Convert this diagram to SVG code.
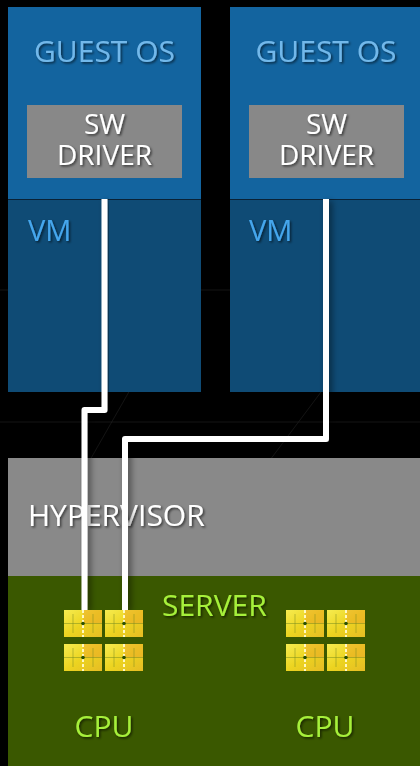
<svg xmlns="http://www.w3.org/2000/svg" width="420" height="766" viewBox="0 0 420 766">
<defs>
<style>
.t{font-family:"Open Sans","Liberation Sans",sans-serif;font-size:30px;filter:url(#ts)}
.guest{fill:#72b8ea}
.white{fill:#ffffff}
.drv{font-size:28px}
.vm{fill:#45a6ec;font-size:29px}
.green{fill:#a6f03a}
.wire{fill:none;stroke:#ffffff;stroke-width:6;stroke-linejoin:round;filter:url(#ls)}
.bg{stroke:#222222;stroke-width:1;fill:none;opacity:0.6}
</style>
<filter id="ts" x="-10%" y="-20%" width="130%" height="160%">
<feDropShadow dx="1.5" dy="1.5" stdDeviation="1" flood-color="#000" flood-opacity="0.6"/>
</filter>
<filter id="ls" x="-20%" y="-5%" width="140%" height="110%">
<feDropShadow dx="3" dy="2" stdDeviation="3" flood-color="#000" flood-opacity="0.45"/>
</filter>
<linearGradient id="chipg" x1="0" y1="0" x2="1" y2="1">
<stop offset="0" stop-color="#f6ec50"/>
<stop offset="0.5" stop-color="#ecd420"/>
<stop offset="1" stop-color="#e6bc24"/>
</linearGradient>
<g id="chip">
<rect x="0" y="0" width="38" height="27" fill="url(#chipg)"/>
<rect x="19" y="0" width="19" height="14" fill="#eb9a2a" opacity="0.4"/>
<line x1="0" y1="13.5" x2="38" y2="13.5" stroke="#8a9a20" stroke-width="1.2" opacity="0.6"/>
<line x1="9" y1="4" x2="9" y2="23" stroke="#7a8a20" stroke-width="1" opacity="0.5"/>
<line x1="29" y1="4" x2="29" y2="23" stroke="#7a8a20" stroke-width="1" opacity="0.5"/>
<line x1="19" y1="0" x2="19" y2="27" stroke="#fff8c0" stroke-width="2" stroke-dasharray="3 2"/>
<circle cx="19" cy="13.5" r="1.8" fill="#2a5000"/>
</g>
</defs>
<rect width="420" height="766" fill="#000000"/>
<g id="background">
<line class="bg" x1="0" y1="290" x2="420" y2="290"/>
<line class="bg" x1="0" y1="422" x2="420" y2="422"/>
<line class="bg" x1="270" y1="460" x2="330" y2="380"/>
<line class="bg" x1="90" y1="460" x2="130" y2="390"/>
</g>
<g id="vm1">
<rect x="8" y="7" width="193" height="192" fill="#13649f"/>
<rect x="8" y="200" width="193" height="192" fill="#0f4b75"/>
<line x1="8" y1="199.5" x2="201" y2="199.5" stroke="#0a2236" stroke-width="1"/>
<text class="t guest" x="104.5" y="62" text-anchor="middle">GUEST OS</text>
<text class="t vm" x="28" y="241">VM</text>
</g>
<g id="driver1">
<rect x="27" y="105" width="155" height="73" fill="#888888"/>
<text class="t white drv" x="104.5" y="134" text-anchor="middle">SW</text>
<text class="t white drv" x="104.5" y="165" text-anchor="middle">DRIVER</text>
</g>
<g id="vm2">
<rect x="230" y="7" width="190" height="192" fill="#13649f"/>
<rect x="230" y="200" width="190" height="192" fill="#0f4b75"/>
<line x1="230" y1="199.5" x2="420" y2="199.5" stroke="#0a2236" stroke-width="1"/>
<text class="t guest" x="326" y="62" text-anchor="middle">GUEST OS</text>
<text class="t vm" x="249" y="241">VM</text>
</g>
<g id="driver2">
<rect x="249" y="105" width="155" height="73" fill="#888888"/>
<text class="t white drv" x="326.5" y="134" text-anchor="middle">SW</text>
<text class="t white drv" x="326.5" y="165" text-anchor="middle">DRIVER</text>
</g>
<g id="hypervisor">
<rect x="8" y="458" width="412" height="118" fill="#898989"/>
<text class="t white" x="28" y="526">HYPERVISOR</text>
</g>
<g id="server">
<rect x="8" y="576" width="412" height="190" fill="#3a5800"/>
<text class="t green" x="162" y="616">SERVER</text>
</g>
<g id="connectors">
<path class="wire" d="M104.5 199 V410 H84.5 V610"/>
<path class="wire" d="M326 199 V439 H125 V610"/>
</g>
<g id="cpu1">
<use href="#chip" x="64" y="610"/>
<use href="#chip" x="105" y="610"/>
<use href="#chip" x="64" y="644"/>
<use href="#chip" x="105" y="644"/>
<text class="t green" x="104" y="737" text-anchor="middle">CPU</text>
</g>
<g id="cpu2">
<use href="#chip" x="286" y="610"/>
<use href="#chip" x="327" y="610"/>
<use href="#chip" x="286" y="644"/>
<use href="#chip" x="327" y="644"/>
<text class="t green" x="325" y="737" text-anchor="middle">CPU</text>
</g>
</svg>
